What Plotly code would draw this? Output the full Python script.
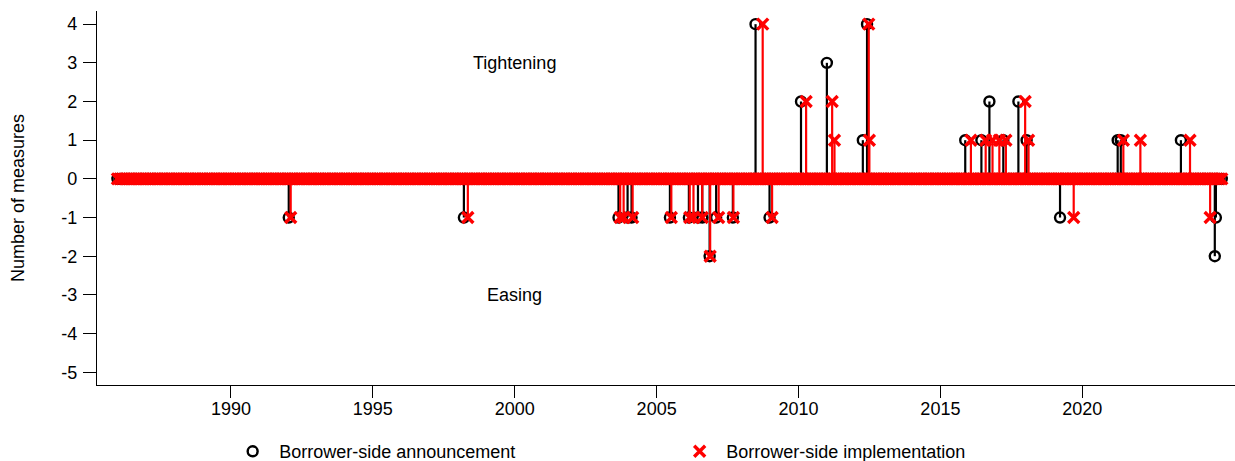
import plotly.graph_objects as go
import pandas as pd

# Monthly observation grid (months with no measure are zero)
months = pd.date_range("1986-01-01", "2024-12-01", freq="MS")

# Borrower-side announcements: date and net number of measures
ann_dates = ["1992-01-15", "1998-03-18", "2003-08-29", "2003-12-24", "2004-02-13",
             "2005-06-21", "2006-02-20", "2006-06-17", "2006-08-11", "2006-11-14",
             "2007-02-06", "2007-09-09", "2008-06-27", "2008-12-24", "2010-02-02",
             "2011-01-01", "2012-04-08", "2012-06-01", "2015-11-17", "2016-06-12",
             "2016-09-23", "2017-03-21", "2017-10-01", "2018-01-15", "2019-03-21",
             "2021-04-01", "2021-05-11", "2023-06-24", "2024-09-02", "2024-09-16"]
ann_values = [-1, -1, -1, -1, -1,
              -1, -1, -1, -1, -2,
              -1, -1, 4, -1, 2,
              3, 1, 4, 1, 1,
              2, 1, 2, 1, -1,
              1, 1, 1, -2, -1]

# Borrower-side implementations: date and net number of measures
impl_dates = ["1992-02-09", "1998-05-08", "2003-09-20", "2003-11-03", "2004-02-27",
              "2005-07-09", "2006-03-03", "2006-04-20", "2006-08-11", "2006-11-21",
              "2007-03-10", "2007-09-16", "2008-09-27", "2009-01-26", "2010-04-09",
              "2011-03-10", "2011-04-09", "2012-06-23", "2012-07-01", "2016-01-29",
              "2016-08-06", "2016-11-02", "2017-01-29", "2017-04-23", "2017-12-27",
              "2018-02-09", "2019-09-13", "2021-06-13", "2022-01-18", "2023-10-19",
              "2024-07-04"]
impl_values = [-1, -1, -1, -1, -1,
               -1, -1, -1, -1, -2,
               -1, -1, 4, -1, 2,
               2, 1, 4, 1, 1,
               1, 1, 1, 1, 2,
               1, -1, 1, 1, 1,
               -1]

year_ticks = [1990, 1995, 2000, 2005, 2010, 2015, 2020]
y_ticks = [-5, -4, -3, -2, -1, 0, 1, 2, 3, 4]

FONT = "Liberation Sans, Arial, sans-serif"
BLACK = "#000000"
RED = "#ff0000"


def stem_xy(dates, values):
    xs, ys = [], []
    for d, v in zip(dates, values):
        xs += [d, d, None]
        ys += [0, v, None]
    return xs, ys


month_str = [m.strftime("%Y-%m-%d") for m in months]
zeros = [0] * len(month_str)

fig = go.Figure()

ax, ay = stem_xy(ann_dates, ann_values)
fig.add_trace(go.Scatter(x=ax, y=ay, mode="lines", line=dict(color=BLACK, width=2.2),
                         showlegend=False, hoverinfo="skip"))
fig.add_trace(go.Scatter(x=month_str + ann_dates, y=zeros + ann_values, mode="markers",
                         name="Borrower-side announcement",
                         marker=dict(symbol="circle-open", size=10, color=BLACK,
                                     line=dict(color=BLACK, width=2.4))))

ix, iy = stem_xy(impl_dates, impl_values)
fig.add_trace(go.Scatter(x=ix, y=iy, mode="lines", line=dict(color=RED, width=2.2),
                         showlegend=False, hoverinfo="skip"))
fig.add_trace(go.Scatter(x=month_str + impl_dates, y=zeros + impl_values, mode="markers",
                         name="Borrower-side implementation",
                         marker=dict(symbol="x-thin", size=11, color=RED,
                                     line=dict(color=RED, width=3.4))))

fig.add_annotation(x="2000-01-01", y=3, text="Tightening", showarrow=False,
                   font=dict(family=FONT, size=18, color=BLACK))
fig.add_annotation(x="2000-01-01", y=-3, text="Easing", showarrow=False,
                   font=dict(family=FONT, size=18, color=BLACK))

fig.update_layout(
    width=1235, height=461,
    margin=dict(l=97, r=0, t=11, b=76, autoexpand=False),
    paper_bgcolor="white", plot_bgcolor="white",
    font=dict(family=FONT, size=18, color=BLACK),
    legend=dict(orientation="h", x=0.1135, xanchor="left", y=-0.178, yanchor="middle",
                entrywidth=389, itemwidth=43,
                font=dict(family=FONT, size=18, color=BLACK),
                bgcolor="rgba(0,0,0,0)"),
    xaxis=dict(
        type="date",
        range=["1985-04-13", "2025-05-20"],
        tickvals=[f"{y}-01-01" for y in year_ticks],
        ticktext=[str(y) for y in year_ticks],
        showline=True, linecolor=BLACK, linewidth=1.3,
        ticks="outside", ticklen=12, tickwidth=1.3, tickcolor=BLACK,
        ticklabelstandoff=-5,
        showgrid=False, zeroline=False,
        tickfont=dict(family=FONT, size=18, color=BLACK),
    ),
    yaxis=dict(
        range=[-5.33, 4.34],
        tickvals=y_ticks,
        ticktext=[str(v) for v in y_ticks],
        showline=True, linecolor=BLACK, linewidth=1.3,
        ticks="outside", ticklen=13, tickwidth=1.3, tickcolor=BLACK,
        ticklabelstandoff=2,
        showgrid=False, zeroline=False,
        tickfont=dict(family=FONT, size=18, color=BLACK),
        title=dict(text="Number of measures", standoff=31,
                   font=dict(family=FONT, size=18, color=BLACK)),
    ),
)

fig.write_html("out.html")
